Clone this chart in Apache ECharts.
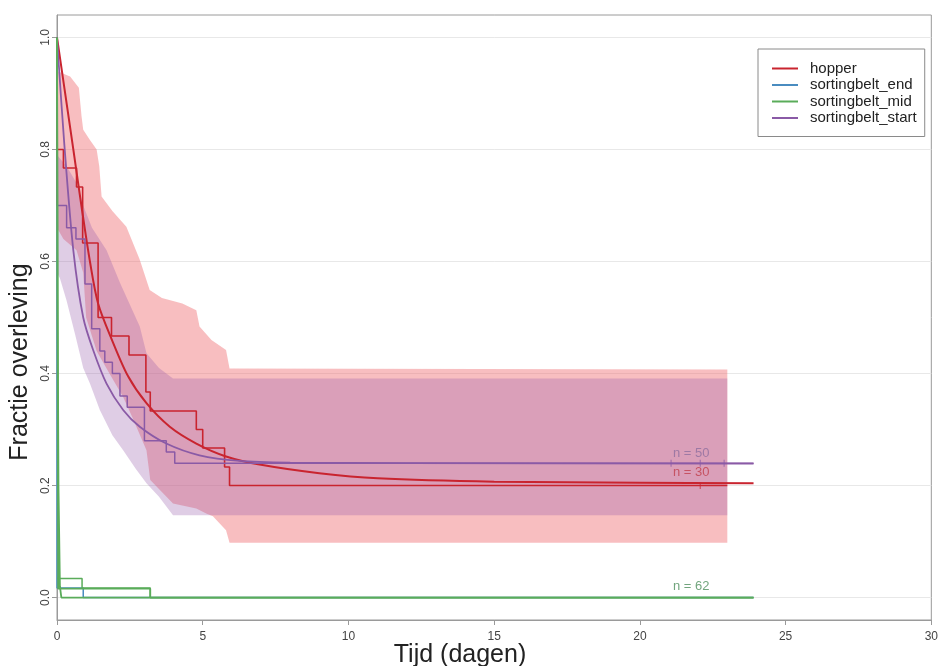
<!DOCTYPE html>
<html>
<head>
<meta charset="utf-8">
<script src="https://cdn.jsdelivr.net/npm/echarts@6/dist/echarts.min.js"></script>
<style>
  html, body { margin: 0; padding: 0; background: #fff; }
  #chart { width: 941px; height: 666px; }
</style>
</head>
<body>
<div id="chart"></div>
<script>
// Kaplan-Meier steps: [time (days), survival fraction after the event]
const hopperKM = [[0,1],[0,0.8],[0.22,0.767],[0.67,0.733],[0.88,0.633],[1.41,0.5],[1.87,0.467],[2.47,0.433],[3.05,0.367],[3.2,0.333],[4.78,0.3],[5.0,0.267],[5.75,0.233],[5.92,0.2],[23,0.2]];
const startKM = [[0,1],[0,0.70],[0.33,0.66],[0.65,0.64],[0.96,0.56],[1.19,0.48],[1.47,0.44],[1.64,0.42],[1.9,0.40],[2.16,0.36],[2.41,0.34],[3.0,0.28],[3.75,0.26],[4.04,0.24],[23.9,0.24]];
const midKM = [[0,1],[0.04,0.016],[3.2,0],[23.9,0]];
const midUpper = [[0,0.034],[0.86,0.017],[3.2,0]];
const endKM = [[0,1],[0,0.017],[0.9,0],[23.9,0]];

// Fitted survival curves
const hopperFit = [[0,1],[0.28,0.9],[0.56,0.8],[0.85,0.695],[1.13,0.6],[1.41,0.525],[1.87,0.462],[2.44,0.395],[3.07,0.347],[3.87,0.305],[4.78,0.275],[5.8,0.252],[7,0.237],[9,0.222],[11,0.213],[15,0.207],[20,0.205],[23.9,0.204]];
const startFit = [[0,1],[0.25,0.81],[0.56,0.62],[0.9,0.5],[1.24,0.442],[1.7,0.382],[2.27,0.335],[2.84,0.305],[3.75,0.275],[4.89,0.254],[6.26,0.244],[8,0.241],[12,0.24],[23.9,0.239]];
const midFit = [[0,1],[0.02,0.55],[0.05,0.2],[0.1,0.02],[0.15,0],[23.9,0]];

// Confidence bands
const hopperUpper = [[0,0.94],[0.45,0.93],[0.75,0.91],[0.84,0.86],[0.9,0.835],[1.13,0.817],[1.36,0.80],[1.45,0.77],[1.53,0.716],[1.9,0.69],[2.38,0.662],[2.84,0.603],[3.18,0.549],[3.6,0.535],[4.3,0.525],[4.78,0.513],[4.89,0.484],[5.3,0.46],[5.8,0.442],[5.92,0.409],[23,0.407]];
const hopperLower = [[0,0.66],[0.22,0.64],[0.67,0.62],[0.9,0.58],[1.0,0.5],[1.36,0.44],[1.8,0.4],[2.27,0.358],[2.6,0.32],[3.07,0.263],[3.2,0.21],[3.98,0.168],[4.78,0.159],[5.12,0.15],[5.35,0.145],[5.8,0.12],[5.92,0.098],[23,0.098]];
const startUpper = [[0,0.79],[0.33,0.77],[0.67,0.74],[0.9,0.70],[1.2,0.66],[1.7,0.62],[2.16,0.562],[2.84,0.484],[3.07,0.436],[3.5,0.41],[3.98,0.391],[23,0.391]];
const startLower = [[0,0.58],[0.1,0.57],[0.33,0.53],[0.62,0.47],[0.9,0.41],[1.13,0.382],[1.47,0.335],[1.9,0.29],[2.27,0.263],[2.7,0.23],[3.07,0.204],[3.5,0.18],[3.98,0.147],[23,0.147]];

// Censored observations
const startCensor = [[21.07,0.24],[22.07,0.24],[22.89,0.24]];
const hopperCensor = [[22.07,0.2]];

// Group sizes shown at the right end of the curves
const nLabelText = ['n = 50', 'n = 30', 'n = 62'];
const nLabelAt = [[21.76,0.258],[21.76,0.224],[21.76,0.0195]];

const legendNames = ['hopper', 'sortingbelt_end', 'sortingbelt_mid', 'sortingbelt_start'];
const yTicks = [0, 0.2, 0.4, 0.6, 0.8, 1.0];

const RED = '#c9242f', BLUE = '#4a8cc0', GREEN = '#5aac5a', PURPLE = '#8a5aa6';
const nLabelColors = ['#8f6f9f', '#c0404e', '#4d8f5c'];
const FONT = 'Liberation Sans, Arial, sans-serif';

function band(name, upper, lower, fill) {
  const ring = upper.concat(lower.slice().reverse());
  return {
    name, type: 'custom', silent: true, z: 1,
    data: [[0, 0]],
    renderItem: (params, api) => ({
      type: 'polygon',
      shape: { points: ring.map(p => api.coord(p)) },
      style: { fill }
    })
  };
}

function path(name, data, color, width, opts) {
  return Object.assign({
    name, type: 'line', data, symbol: 'none', silent: true, z: 3,
    lineStyle: { color, width },
    itemStyle: { color },
    animation: false
  }, opts || {});
}

const chart = echarts.init(document.getElementById('chart'), null, { renderer: 'canvas' });

chart.setOption({
  animation: false,
  backgroundColor: '#fff',
  grid: { left: 57, right: 7, top: 15, bottom: 46, show: true, borderColor: '#9a9a9a', borderWidth: 1 },
  xAxis: {
    type: 'value', min: 0, max: 30, interval: 5,
    axisLine: { show: true, onZero: false, lineStyle: { color: '#9a9a9a', width: 1 } },
    axisTick: { show: true, length: 5, lineStyle: { color: '#9a9a9a' } },
    axisLabel: { fontSize: 12, color: '#444', margin: 11, fontFamily: FONT },
    splitLine: { show: false }
  },
  yAxis: {
    type: 'value', min: -0.04, max: 1.04,
    axisLine: { show: true, onZero: false, lineStyle: { color: '#9a9a9a', width: 1 } },
    axisTick: { show: true, length: 5, customValues: yTicks, lineStyle: { color: '#9a9a9a' } },
    axisLabel: {
      customValues: yTicks, rotate: 90, fontSize: 12, color: '#444', margin: 5,
      fontFamily: FONT,
      formatter: v => v.toFixed(1)
    },
    splitLine: { show: false }
  },
  legend: {
    data: legendNames,
    orient: 'vertical', left: 758, top: 49,
    itemWidth: 26, itemHeight: 2, itemGap: 1.5, icon: 'rect',
    padding: [12, 8, 11, 14],
    borderColor: '#8a8a8a', borderWidth: 1, backgroundColor: '#fff',
    textStyle: { fontSize: 15, color: '#222', lineHeight: 15, padding: [0, 0, 0, 7], fontFamily: FONT }
  },
  graphic: [
    {
      type: 'text', x: 20, y: 362, rotation: Math.PI / 2, silent: true,
      style: { text: 'Fractie overleving', fontSize: 25, fill: '#222', textAlign: 'center', textVerticalAlign: 'middle', fontFamily: FONT }
    },
    {
      type: 'text', x: 460, y: 655, silent: true,
      style: { text: 'Tijd (dagen)', fontSize: 25, fill: '#222', textAlign: 'center', textVerticalAlign: 'middle', fontFamily: FONT }
    }
  ],
  series: [
    // light horizontal guides at the y ticks, kept beneath the bands
    {
      name: 'guides', type: 'line', data: [], silent: true, z: 0,
      markLine: {
        silent: true, symbol: 'none', z: 0, label: { show: false },
        lineStyle: { color: '#e8e8e8', width: 1, type: 'solid' },
        data: yTicks.map(v => ({ yAxis: v }))
      }
    },
    band('hopper band', hopperUpper, hopperLower, 'rgba(238,100,105,0.42)'),
    band('sortingbelt_start band', startUpper, startLower, 'rgba(150,90,170,0.30)'),

    path('sortingbelt_end', endKM, BLUE, 1.5, { step: 'end' }),
    path('hopper', hopperKM, RED, 1.6, { step: 'end' }),
    path('hopper fit', hopperFit, RED, 2, { smooth: 0.3 }),
    path('sortingbelt_start', startKM, PURPLE, 1.5, { step: 'end' }),
    path('sortingbelt_start fit', startFit, PURPLE, 1.8, { smooth: 0.3 }),
    path('sortingbelt_mid', midKM, GREEN, 1.8, { step: 'end', z: 4 }),
    path('sortingbelt_mid upper', midUpper, GREEN, 1.5, { step: 'end', z: 4 }),
    path('sortingbelt_mid fit', midFit, GREEN, 1.8, { z: 4 }),

    {
      name: 'start censored', type: 'scatter', data: startCensor, silent: true, z: 5,
      symbol: 'rect', symbolSize: [1, 7], itemStyle: { color: PURPLE }
    },
    {
      name: 'hopper censored', type: 'scatter', data: hopperCensor, silent: true, z: 5,
      symbol: 'rect', symbolSize: [1, 7], itemStyle: { color: RED }
    },
    {
      name: 'group sizes', type: 'scatter', silent: true, z: 6, symbolSize: 0,
      data: nLabelAt.map((p, i) => ({
        value: p,
        label: { show: true, position: 'inside', formatter: nLabelText[i], color: nLabelColors[i], fontSize: 13, fontFamily: FONT }
      }))
    }
  ]
});
</script>
</body>
</html>
